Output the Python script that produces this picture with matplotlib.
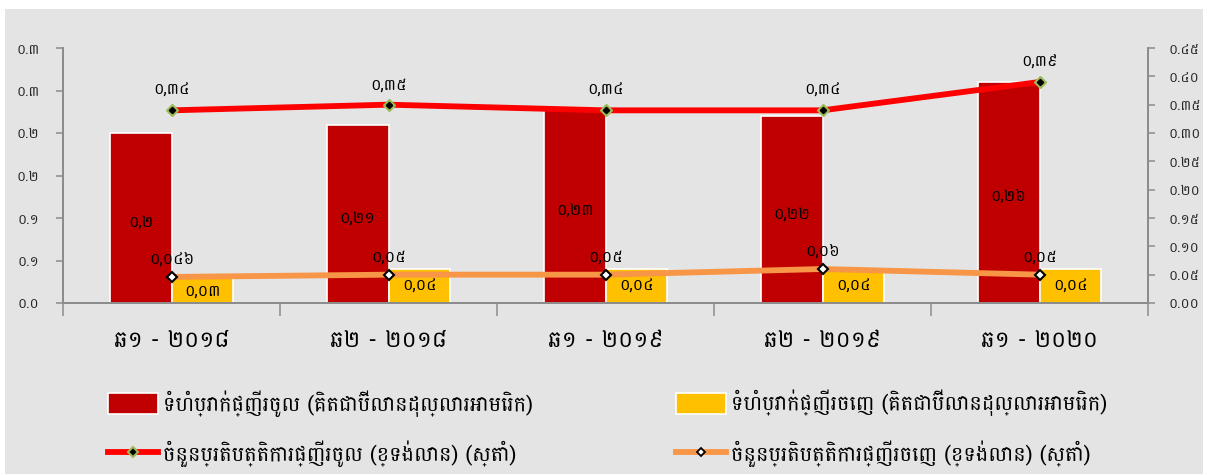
import matplotlib
matplotlib.use("Agg")
import matplotlib.pyplot as plt
import numpy as np
from decimal import Decimal, ROUND_HALF_UP
from matplotlib.patches import Rectangle, Patch
from matplotlib.lines import Line2D
from matplotlib.ticker import FixedLocator, FuncFormatter

plt.rcParams['font.family'] = ['Battambang', 'Noto Sans Khmer', 'DejaVu Sans']

# Periods (half-years)
categories = ["ឆ១ - ២០១៨", "ឆ២ - ២០១៨", "ឆ១ - ២០១៩", "ឆ២ - ២០១៩", "ឆ១ - ២០២០"]

# Remittance volumes, billion USD (left axis)
inflow_value = [0.20, 0.21, 0.23, 0.22, 0.26]
outflow_value = [0.03, 0.04, 0.04, 0.04, 0.04]

# Number of transactions, millions (right axis)
inflow_count = [0.34, 0.35, 0.34, 0.34, 0.39]
outflow_count = [0.046, 0.05, 0.05, 0.06, 0.05]

legend_labels = [
    "ទំហំប្រាក់ផ្ញើរចូល (គិតជាប៊ីលានដុល្លារអាមេរិក)",
    "ទំហំប្រាក់ផ្ញើរចេញ (គិតជាប៊ីលានដុល្លារអាមេរិក)",
    "ចំនួនប្រតិបត្តិការផ្ញើរចូល (ខ្ទង់លាន) (ស្តាំ)",
    "ចំនួនប្រតិបត្តិការផ្ញើរចេញ (ខ្ទង់លាន) (ស្តាំ)",
]

KH_DIGITS = str.maketrans("0123456789", "០១២៣៤៥៦៧៨៩")


def kh(s):
    return s.translate(KH_DIGITS)


def round_half_up(v, places):
    q = Decimal(1).scaleb(-places)
    return str(Decimal(str(round(float(v), 6))).quantize(q, rounding=ROUND_HALF_UP))


def fmt_value(v):
    s = ("%.3f" % v).rstrip("0")
    if s.endswith("."):
        s += "0"
    return kh(s.replace(".", ","))


BG = "#e4e4e4"
AXC = "#8c8c8c"
RED_BAR = "#c00000"
YEL_BAR = "#ffc000"
RED_LINE = "#ff0000"
ORG_LINE = "#f79646"

W, H = 1208, 474
fig = plt.figure(figsize=(W / 100, H / 100), dpi=100, facecolor="white")
fig.patches.append(Rectangle((5 / W, 0), 1 - 10 / W, 1 - 9 / H, transform=fig.transFigure,
                             facecolor=BG, edgecolor="none", zorder=-10))

ax = fig.add_axes([63 / W, 1 - 303 / H, (1148 - 63) / W, 255 / H])
ax.set_facecolor("none")
ax2 = ax.twinx()

x = np.arange(len(categories))
bw = 0.285
ax.bar(x - bw / 2, inflow_value, bw, color=RED_BAR, edgecolor="white", linewidth=1.2, zorder=2)
ax.bar(x + bw / 2, outflow_value, bw, color=YEL_BAR, edgecolor="white", linewidth=1.2, zorder=2)

ax.set_xlim(-0.5, len(categories) - 0.5)
ax.set_ylim(0, 0.30)
ax2.set_ylim(0, 0.45)

for xi, v in zip(x, inflow_value):
    ax.text(xi - bw / 2, v / 2 * 0.96, fmt_value(v), ha="center", va="center", fontsize=11.5, color="black", zorder=5)
for xi, v in zip(x, outflow_value):
    ax.text(xi + bw / 2, v / 2, fmt_value(v), ha="center", va="center", fontsize=11.5, color="black", zorder=5,
            clip_on=False)

ax2.plot(x, inflow_count, color=RED_LINE, lw=4.2, solid_capstyle="butt", zorder=3)
ax2.plot(x, inflow_count, ls="none", marker="D", ms=6.5, mfc="#9bbb59", mec="#9bbb59", zorder=4)
ax2.plot(x, inflow_count, ls="none", marker="D", ms=3.2, mfc="black", mec="black", zorder=5)
ax2.plot(x, outflow_count, color=ORG_LINE, lw=4.2, solid_capstyle="butt", zorder=3)
ax2.plot(x, outflow_count, ls="none", marker="D", ms=5, mfc="white", mec="black", mew=1.5, zorder=4)

for xi, v in zip(x, inflow_count):
    ax2.annotate(fmt_value(v), (xi, v), xytext=(0, 9), textcoords="offset points",
                 ha="center", va="bottom", fontsize=11.5)
for xi, v in zip(x, outflow_count):
    ax2.annotate(fmt_value(v), (xi, v), xytext=(0, 7), textcoords="offset points",
                 ha="center", va="bottom", fontsize=11.5)

ax2.set_zorder(ax.get_zorder() + 1)
ax2.patch.set_visible(False)

# Axes styling
for a in (ax, ax2):
    a.spines["top"].set_visible(False)
    for side in ("left", "right", "bottom"):
        a.spines[side].set_color(AXC)
        a.spines[side].set_linewidth(1.3)

ax.yaxis.set_major_locator(FixedLocator(np.arange(0, 0.301, 0.05)))
ax.yaxis.set_major_formatter(FuncFormatter(lambda v, p: kh(round_half_up(v, 1))))
ax2.yaxis.set_major_locator(FixedLocator(np.arange(0, 0.451, 0.05)))
ax2.yaxis.set_major_formatter(FuncFormatter(lambda v, p: kh(round_half_up(v, 2))))
ax.tick_params(axis="y", length=5, width=1.1, color=AXC, labelsize=10, pad=12, labelcolor="#262626")
ax2.tick_params(axis="y", length=5, width=1.1, color=AXC, labelsize=10, pad=10, labelcolor="#262626")

ax.set_xticks(np.arange(-0.5, len(categories), 1.0))
ax.set_xticklabels([])
ax.set_xticks(x, minor=True)
ax.set_xticklabels(categories, minor=True, fontsize=16.5)
ax.tick_params(axis="x", which="major", length=9, width=1.1, color=AXC)
ax.tick_params(axis="x", which="minor", length=0, pad=19, labelcolor="black")

# Legend: two columns, each anchored at its own position
handles = [
    Patch(facecolor=RED_BAR, edgecolor="white", linewidth=1.2),
    Patch(facecolor=YEL_BAR, edgecolor="white", linewidth=1.2),
    Line2D([], [], color=RED_LINE, lw=4.2, marker="D", ms=5, mfc="black", mec="#9bbb59", mew=1.5),
    Line2D([], [], color=ORG_LINE, lw=4.2, marker="D", ms=4, mfc="white", mec="black", mew=1.3),
]
legend_kw = dict(loc="upper left", frameon=False, fontsize=15, handlelength=2.4, handleheight=1.2,
                 labelspacing=1.15, handletextpad=0.25, borderpad=0, borderaxespad=0)
leg1 = fig.legend([handles[0], handles[2]], [legend_labels[0], legend_labels[2]],
                  bbox_to_anchor=(108 / W, 1 - 390 / H), **legend_kw)
leg2 = fig.legend([handles[1], handles[3]], [legend_labels[1], legend_labels[3]],
                  bbox_to_anchor=(676 / W, 1 - 390 / H), **legend_kw)

fig.savefig("out.png", dpi=100, facecolor="white")
